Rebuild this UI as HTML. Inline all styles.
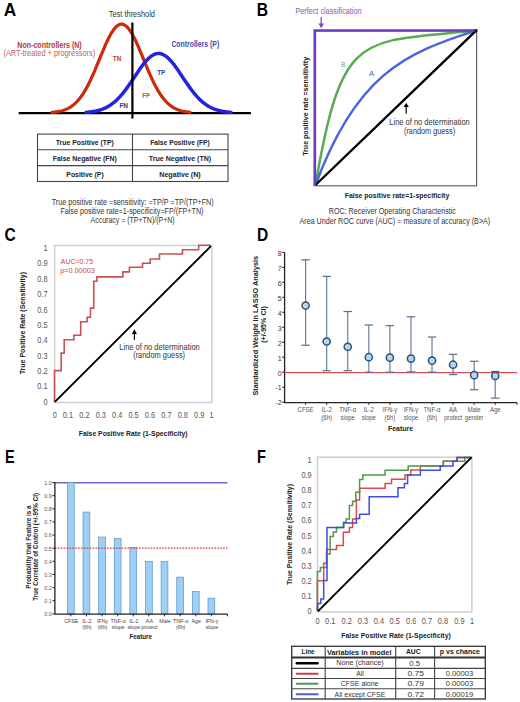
<!DOCTYPE html>
<html><head><meta charset="utf-8"><style>
html,body{margin:0;padding:0;background:#fff;width:520px;height:702px;overflow:hidden;}
svg{display:block;font-family:"Liberation Sans", sans-serif;}
</style></head><body>
<svg width="520" height="702" viewBox="0 0 520 702">
<rect x="0" y="0" width="520" height="702" fill="#fff"/>
<text x="3.85" y="15.80" font-size="17.7" fill="#000" font-weight="bold" textLength="12.49" lengthAdjust="spacingAndGlyphs" >A</text>
<text x="256.80" y="15.80" font-size="17.7" fill="#000" font-weight="bold" textLength="11.33" lengthAdjust="spacingAndGlyphs" >B</text>
<text x="4.60" y="240.80" font-size="17.7" fill="#000" font-weight="bold" textLength="11.23" lengthAdjust="spacingAndGlyphs" >C</text>
<text x="256.90" y="240.80" font-size="17.7" fill="#000" font-weight="bold" textLength="11.23" lengthAdjust="spacingAndGlyphs" >D</text>
<text x="5.00" y="462.50" font-size="17.7" fill="#000" font-weight="bold" textLength="9.63" lengthAdjust="spacingAndGlyphs" >E</text>
<text x="256.90" y="462.50" font-size="17.7" fill="#000" font-weight="bold" textLength="8.91" lengthAdjust="spacingAndGlyphs" >F</text>
<text x="108.75" y="16.50" font-size="8.2" fill="#333" textLength="46.26" lengthAdjust="spacingAndGlyphs" >Test threshold</text>
<line x1="18.70" y1="113.20" x2="250.90" y2="113.20" stroke="#000" stroke-width="2.3" />
<polyline points="52.00,112.40 53.00,112.30 54.00,112.20 55.00,112.08 56.00,111.94 57.00,111.79 58.00,111.62 59.00,111.43 60.00,111.22 61.00,110.98 62.00,110.71 63.00,110.41 64.00,110.08 65.00,109.72 66.00,109.31 67.00,108.87 68.00,108.38 69.00,107.85 70.00,107.27 71.00,106.63 72.00,105.94 73.00,105.18 74.00,104.37 75.00,103.49 76.00,102.54 77.00,101.52 78.00,100.43 79.00,99.26 80.00,98.01 81.00,96.69 82.00,95.28 83.00,93.80 84.00,92.23 85.00,90.58 86.00,88.85 87.00,87.03 88.00,85.14 89.00,83.18 90.00,81.14 91.00,79.03 92.00,76.86 93.00,74.63 94.00,72.34 95.00,70.01 96.00,67.64 97.00,65.23 98.00,62.81 99.00,60.36 100.00,57.92 101.00,55.47 102.00,53.05 103.00,50.65 104.00,48.28 105.00,45.97 106.00,43.72 107.00,41.54 108.00,39.44 109.00,37.44 110.00,35.54 111.00,33.76 112.00,32.10 113.00,30.59 114.00,29.21 115.00,27.99 116.00,26.93 117.00,26.04 118.00,25.32 119.00,24.77 120.00,24.41 121.00,24.22 122.00,24.22 123.00,24.41 124.00,24.77 125.00,25.32 126.00,26.04 127.00,26.93 128.00,27.99 129.00,29.21 130.00,30.59 131.00,32.10 132.00,33.76 133.00,35.54 134.00,37.44 135.00,39.44 136.00,41.54 137.00,43.72 138.00,45.97 139.00,48.28 140.00,50.65 141.00,53.05 142.00,55.47 143.00,57.92 144.00,60.36 145.00,62.81 146.00,65.23 147.00,67.64 148.00,70.01 149.00,72.34 150.00,74.63 151.00,76.86 152.00,79.03 153.00,81.14 154.00,83.18 155.00,85.14 156.00,87.03 157.00,88.85 158.00,90.58 159.00,92.23 160.00,93.80 161.00,95.28 162.00,96.69 163.00,98.01 164.00,99.26 165.00,100.43 166.00,101.52 167.00,102.54 168.00,103.49 169.00,104.37 170.00,105.18 171.00,105.94 172.00,106.63 173.00,107.27 174.00,107.85 175.00,108.38 176.00,108.87 177.00,109.31 178.00,109.72 179.00,110.08 180.00,110.41 181.00,110.71 182.00,110.98 183.00,111.22 184.00,111.43 185.00,111.62 186.00,111.79 187.00,111.94 188.00,112.08 189.00,112.20 190.00,112.30" fill="none" stroke="#cc2a0c" stroke-width="3.2" stroke-linecap="round"/>
<polyline points="86.00,112.38 87.00,112.30 88.00,112.20 89.00,112.10 90.00,111.99 91.00,111.86 92.00,111.72 93.00,111.56 94.00,111.39 95.00,111.20 96.00,111.00 97.00,110.77 98.00,110.52 99.00,110.25 100.00,109.95 101.00,109.63 102.00,109.28 103.00,108.90 104.00,108.48 105.00,108.04 106.00,107.56 107.00,107.05 108.00,106.50 109.00,105.91 110.00,105.28 111.00,104.61 112.00,103.89 113.00,103.14 114.00,102.33 115.00,101.49 116.00,100.60 117.00,99.66 118.00,98.67 119.00,97.64 120.00,96.57 121.00,95.45 122.00,94.28 123.00,93.07 124.00,91.83 125.00,90.54 126.00,89.21 127.00,87.86 128.00,86.46 129.00,85.05 130.00,83.60 131.00,82.14 132.00,80.66 133.00,79.16 134.00,77.66 135.00,76.16 136.00,74.66 137.00,73.17 138.00,71.69 139.00,70.23 140.00,68.79 141.00,67.39 142.00,66.02 143.00,64.70 144.00,63.43 145.00,62.21 146.00,61.05 147.00,59.95 148.00,58.93 149.00,57.98 150.00,57.12 151.00,56.34 152.00,55.64 153.00,55.04 154.00,54.54 155.00,54.13 156.00,53.82 157.00,53.62 158.00,53.51 159.00,53.51 160.00,53.62 161.00,53.82 162.00,54.13 163.00,54.54 164.00,55.04 165.00,55.64 166.00,56.34 167.00,57.12 168.00,57.98 169.00,58.93 170.00,59.95 171.00,61.05 172.00,62.21 173.00,63.43 174.00,64.70 175.00,66.02 176.00,67.39 177.00,68.79 178.00,70.23 179.00,71.69 180.00,73.17 181.00,74.66 182.00,76.16 183.00,77.66 184.00,79.16 185.00,80.66 186.00,82.14 187.00,83.60 188.00,85.05 189.00,86.46 190.00,87.86 191.00,89.21 192.00,90.54 193.00,91.83 194.00,93.07 195.00,94.28 196.00,95.45 197.00,96.57 198.00,97.64 199.00,98.67 200.00,99.66 201.00,100.60 202.00,101.49 203.00,102.33 204.00,103.14 205.00,103.89 206.00,104.61 207.00,105.28 208.00,105.91 209.00,106.50 210.00,107.05 211.00,107.56 212.00,108.04 213.00,108.48 214.00,108.90 215.00,109.28 216.00,109.63 217.00,109.95 218.00,110.25 219.00,110.52 220.00,110.77 221.00,111.00 222.00,111.20 223.00,111.39 224.00,111.56 225.00,111.72 226.00,111.86 227.00,111.99 228.00,112.10 229.00,112.20 230.00,112.30 231.00,112.38" fill="none" stroke="#2424e0" stroke-width="3.5" stroke-linecap="round"/>
<line x1="132.40" y1="22.50" x2="132.40" y2="118.60" stroke="#000" stroke-width="2.2" />
<text x="17.30" y="47.50" font-size="8.2" fill="#b23838" font-weight="bold" textLength="64.41" lengthAdjust="spacingAndGlyphs" >Non-controllers (N)</text>
<text x="3.50" y="56.20" font-size="8.2" fill="#c25c5c" textLength="91.69" lengthAdjust="spacingAndGlyphs" >(ART-treated + progressors)</text>
<text x="112.75" y="61.00" font-size="8.0" fill="#b24040" font-weight="bold" textLength="8.49" lengthAdjust="spacingAndGlyphs" >TN</text>
<text x="119.40" y="108.10" font-size="8.0" fill="#45306a" font-weight="bold" textLength="8.69" lengthAdjust="spacingAndGlyphs" >FN</text>
<text x="157.25" y="75.40" font-size="8.0" fill="#3838b8" font-weight="bold" textLength="7.99" lengthAdjust="spacingAndGlyphs" >TP</text>
<text x="142.25" y="97.50" font-size="8.0" fill="#8a6666" font-weight="bold" textLength="7.74" lengthAdjust="spacingAndGlyphs" >FP</text>
<text x="171.40" y="47.10" font-size="8.2" fill="#4646b0" font-weight="bold" textLength="47.80" lengthAdjust="spacingAndGlyphs" >Controllers (P)</text>
<rect x="37.5" y="134.1" width="190.5" height="47.4" fill="none" stroke="#444" stroke-width="1.1"/>
<line x1="37.50" y1="149.80" x2="228.00" y2="149.80" stroke="#444" stroke-width="1.1" />
<line x1="37.50" y1="165.60" x2="228.00" y2="165.60" stroke="#444" stroke-width="1.1" />
<line x1="132.50" y1="134.10" x2="132.50" y2="181.50" stroke="#444" stroke-width="1.1" />
<text x="55.80" y="145.20" font-size="8.0" fill="#222" font-weight="bold" textLength="58.01" lengthAdjust="spacingAndGlyphs" >True Positive (TP)</text>
<text x="52.80" y="160.90" font-size="8.0" fill="#222" font-weight="bold" textLength="64.00" lengthAdjust="spacingAndGlyphs" >False Negative (FN)</text>
<text x="66.30" y="176.90" font-size="8.0" fill="#222" font-weight="bold" textLength="37.41" lengthAdjust="spacingAndGlyphs" >Positive (P)</text>
<text x="150.20" y="145.20" font-size="8.0" fill="#222" font-weight="bold" textLength="59.61" lengthAdjust="spacingAndGlyphs" >False Positive (FP)</text>
<text x="148.80" y="160.90" font-size="8.0" fill="#222" font-weight="bold" textLength="62.40" lengthAdjust="spacingAndGlyphs" >True Negative (TN)</text>
<text x="159.30" y="176.90" font-size="8.0" fill="#222" font-weight="bold" textLength="41.40" lengthAdjust="spacingAndGlyphs" >Negative (N)</text>
<text x="51.70" y="204.50" font-size="8.4" fill="#333" textLength="161.98" lengthAdjust="spacingAndGlyphs" >True positive rate =sensitivity: =TP/P =TP/(TP+FN)</text>
<text x="60.40" y="213.50" font-size="8.4" fill="#333" textLength="143.09" lengthAdjust="spacingAndGlyphs" >False positive rate=1-specificity=FP/(FP+TN)</text>
<text x="90.60" y="223.30" font-size="8.4" fill="#333" textLength="84.00" lengthAdjust="spacingAndGlyphs" >Accuracy = (TP+TN)/(P+N)</text>
<text x="295.40" y="14.30" font-size="8.4" fill="#7c5cc4" textLength="66.10" lengthAdjust="spacingAndGlyphs" >Perfect classification</text>
<line x1="321.20" y1="17.20" x2="321.20" y2="25.00" stroke="#7b45d0" stroke-width="1.3" />
<polygon points="318.4,23.5 324.0,23.5 321.2,28.3" fill="#7b45d0"/>
<rect x="314.8" y="30.8" width="161.8" height="155.0" fill="none" stroke="#666" stroke-width="1.2"/>
<path d="M315.5,185 C342.31,29.69 358.5,42.38 476.1,30.6" fill="none" stroke="#5aaa50" stroke-width="2.5"/>
<path d="M315.5,185 C355.63,76 403.69,53.13 476.1,30.6" fill="none" stroke="#4a64e0" stroke-width="2.5"/>
<line x1="315.50" y1="185.00" x2="476.10" y2="30.60" stroke="#000" stroke-width="2.4" />
<polyline points="314.80,186.00 314.80,30.50 476.20,30.50" fill="none" stroke="#6c3cc0" stroke-width="2.7" />
<circle cx="476.1" cy="30.6" r="1.5" fill="#111"/>
<text x="341.00" y="66.60" font-size="8.0" fill="#6aaa5a" textLength="4.21" lengthAdjust="spacingAndGlyphs" >B</text>
<text x="369.00" y="76.40" font-size="8.0" fill="#4a5ac8" textLength="5.18" lengthAdjust="spacingAndGlyphs" >A</text>
<line x1="406.20" y1="106.00" x2="406.20" y2="113.80" stroke="#000" stroke-width="1.2" />
<polygon points="403.6,107 408.8,107 406.2,102.8" fill="#000"/>
<text x="389.30" y="125.40" font-size="8.4" fill="#333" textLength="80.50" lengthAdjust="spacingAndGlyphs" >Line of no determination</text>
<text x="404.00" y="133.70" font-size="8.4" fill="#333" textLength="51.09" lengthAdjust="spacingAndGlyphs" >(random guess)</text>
<text x="0" y="0" transform="translate(308.40 155.80) rotate(-90)" font-size="8.0" fill="#222" font-weight="bold" textLength="98.89" lengthAdjust="spacingAndGlyphs">True positive rate =sensitivity</text>
<text x="344.70" y="198.10" font-size="8.0" fill="#222" font-weight="bold" textLength="104.60" lengthAdjust="spacingAndGlyphs" >False positive rate=1-specificity</text>
<text x="328.75" y="213.75" font-size="8.4" fill="#333" textLength="127.14" lengthAdjust="spacingAndGlyphs" >ROC: Receiver Operating Characteristic</text>
<text x="299.50" y="224.25" font-size="8.4" fill="#333" textLength="190.71" lengthAdjust="spacingAndGlyphs" >Area Under ROC curve (AUC) = measure of accuracy (B&gt;A)</text>
<rect x="54.6" y="245.5" width="157.20" height="157.00" fill="none" stroke="#cfcfcf" stroke-width="1.5"/>
<text x="47.60" y="404.70" font-size="8.2" fill="#555" text-anchor="end" textLength="4.10" lengthAdjust="spacingAndGlyphs">0</text>
<text x="47.60" y="389.34" font-size="8.2" fill="#555" text-anchor="end" textLength="10.26" lengthAdjust="spacingAndGlyphs">0.1</text>
<text x="47.60" y="373.98" font-size="8.2" fill="#555" text-anchor="end" textLength="10.26" lengthAdjust="spacingAndGlyphs">0.2</text>
<text x="47.60" y="358.62" font-size="8.2" fill="#555" text-anchor="end" textLength="10.26" lengthAdjust="spacingAndGlyphs">0.3</text>
<text x="47.60" y="343.26" font-size="8.2" fill="#555" text-anchor="end" textLength="10.26" lengthAdjust="spacingAndGlyphs">0.4</text>
<text x="47.60" y="327.90" font-size="8.2" fill="#555" text-anchor="end" textLength="10.26" lengthAdjust="spacingAndGlyphs">0.5</text>
<text x="47.60" y="312.54" font-size="8.2" fill="#555" text-anchor="end" textLength="10.26" lengthAdjust="spacingAndGlyphs">0.6</text>
<text x="47.60" y="297.18" font-size="8.2" fill="#555" text-anchor="end" textLength="10.26" lengthAdjust="spacingAndGlyphs">0.7</text>
<text x="47.60" y="281.82" font-size="8.2" fill="#555" text-anchor="end" textLength="10.26" lengthAdjust="spacingAndGlyphs">0.8</text>
<text x="47.60" y="266.46" font-size="8.2" fill="#555" text-anchor="end" textLength="10.26" lengthAdjust="spacingAndGlyphs">0.9</text>
<text x="47.60" y="251.10" font-size="8.2" fill="#555" text-anchor="end" textLength="4.10" lengthAdjust="spacingAndGlyphs">1</text>
<text x="54.90" y="417.90" font-size="8.2" fill="#555" text-anchor="middle" textLength="4.10" lengthAdjust="spacingAndGlyphs">0</text>
<text x="67.90" y="417.90" font-size="8.2" fill="#555" text-anchor="middle" textLength="10.26" lengthAdjust="spacingAndGlyphs">0.1</text>
<text x="84.40" y="417.90" font-size="8.2" fill="#555" text-anchor="middle" textLength="10.26" lengthAdjust="spacingAndGlyphs">0.2</text>
<text x="100.80" y="417.90" font-size="8.2" fill="#555" text-anchor="middle" textLength="10.26" lengthAdjust="spacingAndGlyphs">0.3</text>
<text x="117.20" y="417.90" font-size="8.2" fill="#555" text-anchor="middle" textLength="10.26" lengthAdjust="spacingAndGlyphs">0.4</text>
<text x="133.60" y="417.90" font-size="8.2" fill="#555" text-anchor="middle" textLength="10.26" lengthAdjust="spacingAndGlyphs">0.5</text>
<text x="150.00" y="417.90" font-size="8.2" fill="#555" text-anchor="middle" textLength="10.26" lengthAdjust="spacingAndGlyphs">0.6</text>
<text x="166.40" y="417.90" font-size="8.2" fill="#555" text-anchor="middle" textLength="10.26" lengthAdjust="spacingAndGlyphs">0.7</text>
<text x="182.80" y="417.90" font-size="8.2" fill="#555" text-anchor="middle" textLength="10.26" lengthAdjust="spacingAndGlyphs">0.8</text>
<text x="199.20" y="417.90" font-size="8.2" fill="#555" text-anchor="middle" textLength="10.26" lengthAdjust="spacingAndGlyphs">0.9</text>
<text x="211.60" y="417.90" font-size="8.2" fill="#555" text-anchor="middle" textLength="4.10" lengthAdjust="spacingAndGlyphs">1</text>
<polyline points="54.50,402.30 54.50,370.60 61.20,370.60 61.20,353.10 64.20,353.10 64.20,339.70 73.90,339.70 73.90,335.20 80.70,335.20 80.70,321.70 87.10,321.70 87.10,317.20 90.50,317.20 90.50,308.10 93.75,308.10 93.75,281.25 96.90,281.25 96.90,276.90 122.90,276.90 122.90,271.90 129.40,271.90 129.40,267.25 142.50,267.25 142.50,263.20 150.20,263.20 150.20,259.00 159.50,259.00 159.50,254.00 182.45,254.00 182.45,249.70 198.50,249.70 198.80,245.20 210.90,245.20" fill="none" stroke="#cc5050" stroke-width="1.6" />
<line x1="54.85" y1="401.80" x2="210.90" y2="246.20" stroke="#000" stroke-width="1.9" />
<text x="60.80" y="263.80" font-size="8.0" fill="#c84848" textLength="32.31" lengthAdjust="spacingAndGlyphs" >AUC=0.75</text>
<text x="60.20" y="272.50" font-size="8.0" fill="#c84848" textLength="34.60" lengthAdjust="spacingAndGlyphs" >p=0.00003</text>
<line x1="134.40" y1="333.00" x2="134.40" y2="339.70" stroke="#000" stroke-width="1.2" />
<polygon points="131.9,334 136.9,334 134.4,329.3" fill="#000"/>
<text x="119.30" y="349.60" font-size="8.4" fill="#333" textLength="80.50" lengthAdjust="spacingAndGlyphs" >Line of no determination</text>
<text x="133.20" y="357.90" font-size="8.4" fill="#333" textLength="51.89" lengthAdjust="spacingAndGlyphs" >(random guess)</text>
<text x="0" y="0" transform="translate(25.00 374.30) rotate(-90)" font-size="8.0" fill="#222" font-weight="bold" textLength="102.31" lengthAdjust="spacingAndGlyphs">True Positive Rate (Sensitivity)</text>
<text x="78.75" y="436.25" font-size="8.0" fill="#222" font-weight="bold" textLength="108.75" lengthAdjust="spacingAndGlyphs" >False Positive Rate (1-Specificity)</text>
<line x1="284.60" y1="252.30" x2="284.60" y2="403.00" stroke="#222" stroke-width="1.3" />
<line x1="284.60" y1="402.60" x2="517.00" y2="402.60" stroke="#222" stroke-width="1.3" />
<line x1="282.20" y1="402.16" x2="284.60" y2="402.16" stroke="#222" stroke-width="1.1" />
<text x="281.60" y="405.46" font-size="7.0" fill="#333" text-anchor="end">-2</text>
<line x1="282.20" y1="387.18" x2="284.60" y2="387.18" stroke="#222" stroke-width="1.1" />
<text x="281.60" y="390.48" font-size="7.0" fill="#333" text-anchor="end">-1</text>
<line x1="282.20" y1="372.20" x2="284.60" y2="372.20" stroke="#222" stroke-width="1.1" />
<text x="281.60" y="375.50" font-size="7.0" fill="#333" text-anchor="end">0</text>
<line x1="282.20" y1="357.22" x2="284.60" y2="357.22" stroke="#222" stroke-width="1.1" />
<text x="281.60" y="360.52" font-size="7.0" fill="#333" text-anchor="end">1</text>
<line x1="282.20" y1="342.24" x2="284.60" y2="342.24" stroke="#222" stroke-width="1.1" />
<text x="281.60" y="345.54" font-size="7.0" fill="#333" text-anchor="end">2</text>
<line x1="282.20" y1="327.26" x2="284.60" y2="327.26" stroke="#222" stroke-width="1.1" />
<text x="281.60" y="330.56" font-size="7.0" fill="#333" text-anchor="end">3</text>
<line x1="282.20" y1="312.28" x2="284.60" y2="312.28" stroke="#222" stroke-width="1.1" />
<text x="281.60" y="315.58" font-size="7.0" fill="#333" text-anchor="end">4</text>
<line x1="282.20" y1="297.30" x2="284.60" y2="297.30" stroke="#222" stroke-width="1.1" />
<text x="281.60" y="300.60" font-size="7.0" fill="#333" text-anchor="end">5</text>
<line x1="282.20" y1="282.32" x2="284.60" y2="282.32" stroke="#222" stroke-width="1.1" />
<text x="281.60" y="285.62" font-size="7.0" fill="#333" text-anchor="end">6</text>
<line x1="282.20" y1="267.34" x2="284.60" y2="267.34" stroke="#222" stroke-width="1.1" />
<text x="281.60" y="270.64" font-size="7.0" fill="#333" text-anchor="end">7</text>
<line x1="282.20" y1="252.36" x2="284.60" y2="252.36" stroke="#222" stroke-width="1.1" />
<text x="281.60" y="255.66" font-size="7.0" fill="#333" text-anchor="end">8</text>
<line x1="284.60" y1="372.60" x2="517.30" y2="372.60" stroke="#d65252" stroke-width="1.3" />
<line x1="305.60" y1="259.85" x2="305.60" y2="345.24" stroke="#6a7e98" stroke-width="1.2" />
<line x1="301.40" y1="259.85" x2="309.80" y2="259.85" stroke="#5a6e88" stroke-width="1.2" />
<line x1="301.40" y1="345.24" x2="309.80" y2="345.24" stroke="#5a6e88" stroke-width="1.2" />
<line x1="326.67" y1="276.33" x2="326.67" y2="370.70" stroke="#6a7e98" stroke-width="1.2" />
<line x1="322.47" y1="276.33" x2="330.87" y2="276.33" stroke="#5a6e88" stroke-width="1.2" />
<line x1="322.47" y1="370.70" x2="330.87" y2="370.70" stroke="#5a6e88" stroke-width="1.2" />
<line x1="347.74" y1="311.53" x2="347.74" y2="370.70" stroke="#6a7e98" stroke-width="1.2" />
<line x1="343.54" y1="311.53" x2="351.94" y2="311.53" stroke="#5a6e88" stroke-width="1.2" />
<line x1="343.54" y1="370.70" x2="351.94" y2="370.70" stroke="#5a6e88" stroke-width="1.2" />
<line x1="368.81" y1="325.01" x2="368.81" y2="372.20" stroke="#6a7e98" stroke-width="1.2" />
<line x1="364.61" y1="325.01" x2="373.01" y2="325.01" stroke="#5a6e88" stroke-width="1.2" />
<line x1="364.61" y1="372.20" x2="373.01" y2="372.20" stroke="#5a6e88" stroke-width="1.2" />
<line x1="389.88" y1="325.61" x2="389.88" y2="372.20" stroke="#6a7e98" stroke-width="1.2" />
<line x1="385.68" y1="325.61" x2="394.08" y2="325.61" stroke="#5a6e88" stroke-width="1.2" />
<line x1="385.68" y1="372.20" x2="394.08" y2="372.20" stroke="#5a6e88" stroke-width="1.2" />
<line x1="410.95" y1="316.77" x2="410.95" y2="371.90" stroke="#6a7e98" stroke-width="1.2" />
<line x1="406.75" y1="316.77" x2="415.15" y2="316.77" stroke="#5a6e88" stroke-width="1.2" />
<line x1="406.75" y1="371.90" x2="415.15" y2="371.90" stroke="#5a6e88" stroke-width="1.2" />
<line x1="432.02" y1="337.00" x2="432.02" y2="372.20" stroke="#6a7e98" stroke-width="1.2" />
<line x1="427.82" y1="337.00" x2="436.22" y2="337.00" stroke="#5a6e88" stroke-width="1.2" />
<line x1="427.82" y1="372.20" x2="436.22" y2="372.20" stroke="#5a6e88" stroke-width="1.2" />
<line x1="453.09" y1="354.37" x2="453.09" y2="374.60" stroke="#6a7e98" stroke-width="1.2" />
<line x1="448.89" y1="354.37" x2="457.29" y2="354.37" stroke="#5a6e88" stroke-width="1.2" />
<line x1="448.89" y1="374.60" x2="457.29" y2="374.60" stroke="#5a6e88" stroke-width="1.2" />
<line x1="474.16" y1="361.26" x2="474.16" y2="389.73" stroke="#6a7e98" stroke-width="1.2" />
<line x1="469.96" y1="361.26" x2="478.36" y2="361.26" stroke="#5a6e88" stroke-width="1.2" />
<line x1="469.96" y1="389.73" x2="478.36" y2="389.73" stroke="#5a6e88" stroke-width="1.2" />
<line x1="495.23" y1="371.45" x2="495.23" y2="398.12" stroke="#6a7e98" stroke-width="1.2" />
<line x1="491.03" y1="371.45" x2="499.43" y2="371.45" stroke="#5a6e88" stroke-width="1.2" />
<line x1="491.03" y1="398.12" x2="499.43" y2="398.12" stroke="#5a6e88" stroke-width="1.2" />
<circle cx="305.60" cy="305.54" r="3.6" fill="#acd8fa" stroke="#34506e" stroke-width="1.5"/>
<circle cx="326.67" cy="341.49" r="3.6" fill="#acd8fa" stroke="#34506e" stroke-width="1.5"/>
<circle cx="347.74" cy="346.73" r="3.6" fill="#acd8fa" stroke="#34506e" stroke-width="1.5"/>
<circle cx="368.81" cy="357.22" r="3.6" fill="#acd8fa" stroke="#34506e" stroke-width="1.5"/>
<circle cx="389.88" cy="357.67" r="3.6" fill="#acd8fa" stroke="#34506e" stroke-width="1.5"/>
<circle cx="410.95" cy="358.57" r="3.6" fill="#acd8fa" stroke="#34506e" stroke-width="1.5"/>
<circle cx="432.02" cy="360.67" r="3.6" fill="#acd8fa" stroke="#34506e" stroke-width="1.5"/>
<circle cx="453.09" cy="364.71" r="3.6" fill="#acd8fa" stroke="#34506e" stroke-width="1.5"/>
<circle cx="474.16" cy="375.20" r="3.6" fill="#acd8fa" stroke="#34506e" stroke-width="1.5"/>
<circle cx="495.23" cy="375.94" r="3.6" fill="#acd8fa" stroke="#34506e" stroke-width="1.5"/>
<line x1="305.60" y1="402.60" x2="305.60" y2="404.80" stroke="#222" stroke-width="1.0" />
<line x1="326.67" y1="402.60" x2="326.67" y2="404.80" stroke="#222" stroke-width="1.0" />
<line x1="347.74" y1="402.60" x2="347.74" y2="404.80" stroke="#222" stroke-width="1.0" />
<line x1="368.81" y1="402.60" x2="368.81" y2="404.80" stroke="#222" stroke-width="1.0" />
<line x1="389.88" y1="402.60" x2="389.88" y2="404.80" stroke="#222" stroke-width="1.0" />
<line x1="410.95" y1="402.60" x2="410.95" y2="404.80" stroke="#222" stroke-width="1.0" />
<line x1="432.02" y1="402.60" x2="432.02" y2="404.80" stroke="#222" stroke-width="1.0" />
<line x1="453.09" y1="402.60" x2="453.09" y2="404.80" stroke="#222" stroke-width="1.0" />
<line x1="474.16" y1="402.60" x2="474.16" y2="404.80" stroke="#222" stroke-width="1.0" />
<line x1="495.23" y1="402.60" x2="495.23" y2="404.80" stroke="#222" stroke-width="1.0" />
<line x1="517.00" y1="402.60" x2="517.00" y2="404.80" stroke="#222" stroke-width="1.0" />
<text x="305.60" y="412.30" font-size="6.3" fill="#555" text-anchor="middle" textLength="15.96" lengthAdjust="spacingAndGlyphs">CFSE</text>
<text x="326.67" y="412.30" font-size="6.3" fill="#555" text-anchor="middle" textLength="10.31" lengthAdjust="spacingAndGlyphs">IL-2</text>
<text x="326.67" y="419.50" font-size="6.3" fill="#555" text-anchor="middle" textLength="10.64" lengthAdjust="spacingAndGlyphs">(6h)</text>
<text x="347.74" y="412.30" font-size="6.3" fill="#555" text-anchor="middle" textLength="17.09" lengthAdjust="spacingAndGlyphs">TNF-α</text>
<text x="347.74" y="419.50" font-size="6.3" fill="#555" text-anchor="middle" textLength="14.31" lengthAdjust="spacingAndGlyphs">slope</text>
<text x="368.81" y="412.30" font-size="6.3" fill="#555" text-anchor="middle" textLength="10.31" lengthAdjust="spacingAndGlyphs">IL-2</text>
<text x="368.81" y="419.50" font-size="6.3" fill="#555" text-anchor="middle" textLength="14.31" lengthAdjust="spacingAndGlyphs">slope</text>
<text x="389.88" y="412.30" font-size="6.3" fill="#555" text-anchor="middle" textLength="14.63" lengthAdjust="spacingAndGlyphs">IFN-γ</text>
<text x="389.88" y="419.50" font-size="6.3" fill="#555" text-anchor="middle" textLength="10.64" lengthAdjust="spacingAndGlyphs">(6h)</text>
<text x="410.95" y="412.30" font-size="6.3" fill="#555" text-anchor="middle" textLength="14.63" lengthAdjust="spacingAndGlyphs">IFN-γ</text>
<text x="410.95" y="419.50" font-size="6.3" fill="#555" text-anchor="middle" textLength="14.31" lengthAdjust="spacingAndGlyphs">slope</text>
<text x="432.02" y="412.30" font-size="6.3" fill="#555" text-anchor="middle" textLength="17.09" lengthAdjust="spacingAndGlyphs">TNF-α</text>
<text x="432.02" y="419.50" font-size="6.3" fill="#555" text-anchor="middle" textLength="10.64" lengthAdjust="spacingAndGlyphs">(6h)</text>
<text x="453.09" y="412.30" font-size="6.3" fill="#555" text-anchor="middle" textLength="7.98" lengthAdjust="spacingAndGlyphs">AA</text>
<text x="453.09" y="419.50" font-size="6.3" fill="#555" text-anchor="middle" textLength="18.30" lengthAdjust="spacingAndGlyphs">protect</text>
<text x="474.16" y="412.30" font-size="6.3" fill="#555" text-anchor="middle" textLength="12.97" lengthAdjust="spacingAndGlyphs">Male</text>
<text x="474.16" y="419.50" font-size="6.3" fill="#555" text-anchor="middle" textLength="18.64" lengthAdjust="spacingAndGlyphs">gender</text>
<text x="495.23" y="412.30" font-size="6.3" fill="#555" text-anchor="middle" textLength="10.65" lengthAdjust="spacingAndGlyphs">Age</text>
<text x="388.00" y="431.00" font-size="6.8" fill="#222" font-weight="bold" textLength="25.02" lengthAdjust="spacingAndGlyphs" >Feature</text>
<text x="0" y="0" transform="translate(257.50 395.60) rotate(-90)" font-size="7.2" fill="#222" font-weight="bold" textLength="139.72" lengthAdjust="spacingAndGlyphs">Standardized Weight  in LASSO Analysis</text>
<text x="0" y="0" transform="translate(265.50 342.80) rotate(-90)" font-size="7.2" fill="#222" font-weight="bold" textLength="36.80" lengthAdjust="spacingAndGlyphs">(+/-95% CI)</text>
<line x1="54.90" y1="482.70" x2="227.40" y2="482.70" stroke="#7e5ecc" stroke-width="1.6" />
<rect x="67.40" y="482.50" width="6.8" height="131.40" fill="#9ed0f6" stroke="#5b93c8" stroke-width="0.7"/>
<rect x="83.02" y="512.06" width="6.8" height="101.84" fill="#9ed0f6" stroke="#5b93c8" stroke-width="0.7"/>
<rect x="98.64" y="537.03" width="6.8" height="76.87" fill="#9ed0f6" stroke="#5b93c8" stroke-width="0.7"/>
<rect x="114.26" y="538.35" width="6.8" height="75.55" fill="#9ed0f6" stroke="#5b93c8" stroke-width="0.7"/>
<rect x="129.88" y="547.54" width="6.8" height="66.36" fill="#9ed0f6" stroke="#5b93c8" stroke-width="0.7"/>
<rect x="145.50" y="561.34" width="6.8" height="52.56" fill="#9ed0f6" stroke="#5b93c8" stroke-width="0.7"/>
<rect x="161.12" y="561.34" width="6.8" height="52.56" fill="#9ed0f6" stroke="#5b93c8" stroke-width="0.7"/>
<rect x="176.74" y="577.11" width="6.8" height="36.79" fill="#9ed0f6" stroke="#5b93c8" stroke-width="0.7"/>
<rect x="192.36" y="591.56" width="6.8" height="22.34" fill="#9ed0f6" stroke="#5b93c8" stroke-width="0.7"/>
<rect x="207.98" y="598.13" width="6.8" height="15.77" fill="#9ed0f6" stroke="#5b93c8" stroke-width="0.7"/>
<line x1="54.90" y1="548.10" x2="227.40" y2="548.10" stroke="#d43a3a" stroke-width="1.2" stroke-dasharray="1.6 1.3"/>
<line x1="54.90" y1="482.00" x2="54.90" y2="614.60" stroke="#222" stroke-width="1.3" />
<line x1="54.90" y1="614.10" x2="227.60" y2="614.10" stroke="#222" stroke-width="1.3" />
<line x1="52.40" y1="613.90" x2="54.90" y2="613.90" stroke="#222" stroke-width="1.0" />
<text x="51.80" y="616.20" font-size="5.8" fill="#555" text-anchor="end" textLength="7.50" lengthAdjust="spacingAndGlyphs">0.0</text>
<line x1="52.40" y1="600.76" x2="54.90" y2="600.76" stroke="#222" stroke-width="1.0" />
<text x="51.80" y="603.06" font-size="5.8" fill="#555" text-anchor="end" textLength="7.50" lengthAdjust="spacingAndGlyphs">0.1</text>
<line x1="52.40" y1="587.62" x2="54.90" y2="587.62" stroke="#222" stroke-width="1.0" />
<text x="51.80" y="589.92" font-size="5.8" fill="#555" text-anchor="end" textLength="7.50" lengthAdjust="spacingAndGlyphs">0.2</text>
<line x1="52.40" y1="574.48" x2="54.90" y2="574.48" stroke="#222" stroke-width="1.0" />
<text x="51.80" y="576.78" font-size="5.8" fill="#555" text-anchor="end" textLength="7.50" lengthAdjust="spacingAndGlyphs">0.3</text>
<line x1="52.40" y1="561.34" x2="54.90" y2="561.34" stroke="#222" stroke-width="1.0" />
<text x="51.80" y="563.64" font-size="5.8" fill="#555" text-anchor="end" textLength="7.50" lengthAdjust="spacingAndGlyphs">0.4</text>
<line x1="52.40" y1="548.20" x2="54.90" y2="548.20" stroke="#222" stroke-width="1.0" />
<text x="51.80" y="550.50" font-size="5.8" fill="#555" text-anchor="end" textLength="7.50" lengthAdjust="spacingAndGlyphs">0.5</text>
<line x1="52.40" y1="535.06" x2="54.90" y2="535.06" stroke="#222" stroke-width="1.0" />
<text x="51.80" y="537.36" font-size="5.8" fill="#555" text-anchor="end" textLength="7.50" lengthAdjust="spacingAndGlyphs">0.6</text>
<line x1="52.40" y1="521.92" x2="54.90" y2="521.92" stroke="#222" stroke-width="1.0" />
<text x="51.80" y="524.22" font-size="5.8" fill="#555" text-anchor="end" textLength="7.50" lengthAdjust="spacingAndGlyphs">0.7</text>
<line x1="52.40" y1="508.78" x2="54.90" y2="508.78" stroke="#222" stroke-width="1.0" />
<text x="51.80" y="511.08" font-size="5.8" fill="#555" text-anchor="end" textLength="7.50" lengthAdjust="spacingAndGlyphs">0.8</text>
<line x1="52.40" y1="495.64" x2="54.90" y2="495.64" stroke="#222" stroke-width="1.0" />
<text x="51.80" y="497.94" font-size="5.8" fill="#555" text-anchor="end" textLength="7.50" lengthAdjust="spacingAndGlyphs">0.9</text>
<line x1="52.40" y1="482.50" x2="54.90" y2="482.50" stroke="#222" stroke-width="1.0" />
<text x="51.80" y="484.80" font-size="5.8" fill="#555" text-anchor="end" textLength="7.50" lengthAdjust="spacingAndGlyphs">1.0</text>
<line x1="70.80" y1="614.10" x2="70.80" y2="616.30" stroke="#222" stroke-width="1.0" />
<line x1="86.42" y1="614.10" x2="86.42" y2="616.30" stroke="#222" stroke-width="1.0" />
<line x1="102.04" y1="614.10" x2="102.04" y2="616.30" stroke="#222" stroke-width="1.0" />
<line x1="117.66" y1="614.10" x2="117.66" y2="616.30" stroke="#222" stroke-width="1.0" />
<line x1="133.28" y1="614.10" x2="133.28" y2="616.30" stroke="#222" stroke-width="1.0" />
<line x1="148.90" y1="614.10" x2="148.90" y2="616.30" stroke="#222" stroke-width="1.0" />
<line x1="164.52" y1="614.10" x2="164.52" y2="616.30" stroke="#222" stroke-width="1.0" />
<line x1="180.14" y1="614.10" x2="180.14" y2="616.30" stroke="#222" stroke-width="1.0" />
<line x1="195.76" y1="614.10" x2="195.76" y2="616.30" stroke="#222" stroke-width="1.0" />
<line x1="211.38" y1="614.10" x2="211.38" y2="616.30" stroke="#222" stroke-width="1.0" />
<line x1="227.35" y1="614.10" x2="227.35" y2="616.30" stroke="#222" stroke-width="1.0" />
<text x="71.30" y="623.10" font-size="5.6" fill="#444" text-anchor="middle" textLength="14.19" lengthAdjust="spacingAndGlyphs">CFSE</text>
<text x="86.92" y="623.10" font-size="5.6" fill="#444" text-anchor="middle" textLength="9.17" lengthAdjust="spacingAndGlyphs">IL-2</text>
<text x="86.92" y="628.60" font-size="5.6" fill="#444" text-anchor="middle" textLength="9.46" lengthAdjust="spacingAndGlyphs">(6h)</text>
<text x="102.54" y="623.10" font-size="5.6" fill="#444" text-anchor="middle" textLength="11.23" lengthAdjust="spacingAndGlyphs">IFNy</text>
<text x="102.54" y="628.60" font-size="5.6" fill="#444" text-anchor="middle" textLength="9.46" lengthAdjust="spacingAndGlyphs">(6h)</text>
<text x="118.16" y="623.10" font-size="5.6" fill="#444" text-anchor="middle" textLength="15.19" lengthAdjust="spacingAndGlyphs">TNF-α</text>
<text x="118.16" y="628.60" font-size="5.6" fill="#444" text-anchor="middle" textLength="12.72" lengthAdjust="spacingAndGlyphs">slope</text>
<text x="133.78" y="623.10" font-size="5.6" fill="#444" text-anchor="middle" textLength="9.17" lengthAdjust="spacingAndGlyphs">IL-2</text>
<text x="133.78" y="628.60" font-size="5.6" fill="#444" text-anchor="middle" textLength="12.72" lengthAdjust="spacingAndGlyphs">slope</text>
<text x="149.40" y="623.10" font-size="5.6" fill="#444" text-anchor="middle" textLength="7.10" lengthAdjust="spacingAndGlyphs">AA</text>
<text x="149.40" y="628.60" font-size="5.6" fill="#444" text-anchor="middle" textLength="16.26" lengthAdjust="spacingAndGlyphs">protect</text>
<text x="165.02" y="623.10" font-size="5.6" fill="#444" text-anchor="middle" textLength="11.53" lengthAdjust="spacingAndGlyphs">Male</text>
<text x="180.64" y="623.10" font-size="5.6" fill="#444" text-anchor="middle" textLength="15.19" lengthAdjust="spacingAndGlyphs">TNF-α</text>
<text x="180.64" y="628.60" font-size="5.6" fill="#444" text-anchor="middle" textLength="9.46" lengthAdjust="spacingAndGlyphs">(6h)</text>
<text x="196.26" y="623.10" font-size="5.6" fill="#444" text-anchor="middle" textLength="9.47" lengthAdjust="spacingAndGlyphs">Age</text>
<text x="211.88" y="623.10" font-size="5.6" fill="#444" text-anchor="middle" textLength="13.00" lengthAdjust="spacingAndGlyphs">IFN-γ</text>
<text x="211.88" y="628.60" font-size="5.6" fill="#444" text-anchor="middle" textLength="12.72" lengthAdjust="spacingAndGlyphs">slope</text>
<text x="129.40" y="639.30" font-size="6.6" fill="#222" font-weight="bold" textLength="22.62" lengthAdjust="spacingAndGlyphs" >Feature</text>
<text x="0" y="0" transform="translate(30.50 588.80) rotate(-90)" font-size="6.4" fill="#222" font-weight="bold" textLength="83.33" lengthAdjust="spacingAndGlyphs">Probability that Feature is a</text>
<text x="0" y="0" transform="translate(38.00 600.80) rotate(-90)" font-size="6.3" fill="#222" font-weight="bold" textLength="107.79" lengthAdjust="spacingAndGlyphs">True Correlate of Control (+/-95% CI)</text>
<rect x="317.5" y="457.2" width="154.40" height="154.70" fill="none" stroke="#cfcfcf" stroke-width="1.5"/>
<text x="311.70" y="614.30" font-size="8.2" fill="#555" text-anchor="end" textLength="4.10" lengthAdjust="spacingAndGlyphs">0</text>
<text x="311.70" y="599.16" font-size="8.2" fill="#555" text-anchor="end" textLength="10.26" lengthAdjust="spacingAndGlyphs">0.1</text>
<text x="311.70" y="584.02" font-size="8.2" fill="#555" text-anchor="end" textLength="10.26" lengthAdjust="spacingAndGlyphs">0.2</text>
<text x="311.70" y="568.88" font-size="8.2" fill="#555" text-anchor="end" textLength="10.26" lengthAdjust="spacingAndGlyphs">0.3</text>
<text x="311.70" y="553.74" font-size="8.2" fill="#555" text-anchor="end" textLength="10.26" lengthAdjust="spacingAndGlyphs">0.4</text>
<text x="311.70" y="538.60" font-size="8.2" fill="#555" text-anchor="end" textLength="10.26" lengthAdjust="spacingAndGlyphs">0.5</text>
<text x="311.70" y="523.46" font-size="8.2" fill="#555" text-anchor="end" textLength="10.26" lengthAdjust="spacingAndGlyphs">0.6</text>
<text x="311.70" y="508.32" font-size="8.2" fill="#555" text-anchor="end" textLength="10.26" lengthAdjust="spacingAndGlyphs">0.7</text>
<text x="311.70" y="493.18" font-size="8.2" fill="#555" text-anchor="end" textLength="10.26" lengthAdjust="spacingAndGlyphs">0.8</text>
<text x="311.70" y="478.04" font-size="8.2" fill="#555" text-anchor="end" textLength="10.26" lengthAdjust="spacingAndGlyphs">0.9</text>
<text x="311.70" y="462.90" font-size="8.2" fill="#555" text-anchor="end" textLength="4.10" lengthAdjust="spacingAndGlyphs">1</text>
<text x="317.50" y="623.60" font-size="8.2" fill="#555" text-anchor="middle" textLength="4.10" lengthAdjust="spacingAndGlyphs">0</text>
<text x="330.20" y="623.60" font-size="8.2" fill="#555" text-anchor="middle" textLength="10.26" lengthAdjust="spacingAndGlyphs">0.1</text>
<text x="346.70" y="623.60" font-size="8.2" fill="#555" text-anchor="middle" textLength="10.26" lengthAdjust="spacingAndGlyphs">0.2</text>
<text x="363.00" y="623.60" font-size="8.2" fill="#555" text-anchor="middle" textLength="10.26" lengthAdjust="spacingAndGlyphs">0.3</text>
<text x="378.90" y="623.60" font-size="8.2" fill="#555" text-anchor="middle" textLength="10.26" lengthAdjust="spacingAndGlyphs">0.4</text>
<text x="394.70" y="623.60" font-size="8.2" fill="#555" text-anchor="middle" textLength="10.26" lengthAdjust="spacingAndGlyphs">0.5</text>
<text x="411.20" y="623.60" font-size="8.2" fill="#555" text-anchor="middle" textLength="10.26" lengthAdjust="spacingAndGlyphs">0.6</text>
<text x="427.00" y="623.60" font-size="8.2" fill="#555" text-anchor="middle" textLength="10.26" lengthAdjust="spacingAndGlyphs">0.7</text>
<text x="442.90" y="623.60" font-size="8.2" fill="#555" text-anchor="middle" textLength="10.26" lengthAdjust="spacingAndGlyphs">0.8</text>
<text x="459.40" y="623.60" font-size="8.2" fill="#555" text-anchor="middle" textLength="10.26" lengthAdjust="spacingAndGlyphs">0.9</text>
<text x="472.00" y="623.60" font-size="8.2" fill="#555" text-anchor="middle" textLength="4.10" lengthAdjust="spacingAndGlyphs">1</text>
<text x="341.25" y="638.00" font-size="8.0" fill="#222" font-weight="bold" textLength="109.50" lengthAdjust="spacingAndGlyphs" >False Positive Rate (1-Specificity)</text>
<text x="0" y="0" transform="translate(292.00 584.80) rotate(-90)" font-size="8.0" fill="#222" font-weight="bold" textLength="100.81" lengthAdjust="spacingAndGlyphs">True Positive Rate (Sensitivity)</text>
<polyline points="317.40,611.00 317.40,580.80 323.70,580.80 323.70,563.30 326.60,563.30 326.60,549.40 336.50,549.40 336.50,545.50 343.30,545.50 343.30,532.30 349.40,532.30 349.40,527.40 352.60,527.40 352.60,519.00 356.40,519.00 356.40,500.00 359.60,500.00 359.60,488.30 385.10,488.30 385.10,483.60 391.50,483.60 391.50,479.20 405.00,479.20 405.00,475.00 410.80,475.00 410.80,469.90 420.40,469.90 420.40,466.00 443.30,466.00 443.30,461.30 457.00,461.30 457.00,457.60 471.50,457.60" fill="none" stroke="#dd4a4a" stroke-width="1.5" />
<polyline points="317.40,611.00 317.40,571.50 320.40,571.50 320.40,567.60 326.60,567.60 326.60,554.00 330.10,554.00 330.10,536.40 333.30,536.40 333.30,531.90 336.50,531.90 336.50,527.40 343.60,527.40 343.60,522.30 346.20,522.30 346.20,519.10 349.40,519.10 349.40,505.60 352.60,505.60 352.60,501.20 355.80,501.20 355.80,492.20 359.60,492.20 359.60,479.40 362.80,479.40 362.80,474.90 385.10,474.90 385.10,470.30 408.20,470.30 408.20,466.00 443.30,466.00 443.30,461.30 464.80,461.30 464.80,457.60 471.50,457.60" fill="none" stroke="#4e9a48" stroke-width="1.5" />
<polyline points="317.40,611.00 317.80,603.40 320.80,603.40 320.80,598.90 323.70,598.90 323.70,580.50 327.00,580.50 327.00,527.60 343.60,527.60 343.60,523.00 356.40,523.00 356.40,518.50 359.60,518.50 359.60,514.20 369.20,514.20 369.20,496.80 398.00,496.80 398.00,487.80 404.40,487.80 404.40,483.60 407.60,483.60 407.60,475.00 420.40,475.00 420.40,470.30 440.20,470.30 440.20,466.00 453.00,466.00 453.00,461.30 457.20,461.30 457.20,457.60 471.50,457.60" fill="none" stroke="#3a4ee0" stroke-width="1.5" />
<line x1="317.90" y1="611.40" x2="471.50" y2="457.40" stroke="#000" stroke-width="1.9" />
<rect x="291.7" y="646.3" width="193.60" height="52.70" fill="none" stroke="#333" stroke-width="1.3"/>
<line x1="291.70" y1="657.50" x2="485.30" y2="657.50" stroke="#333" stroke-width="1.8" />
<line x1="291.70" y1="668.40" x2="485.30" y2="668.40" stroke="#444" stroke-width="1.1" />
<line x1="291.70" y1="678.50" x2="485.30" y2="678.50" stroke="#444" stroke-width="1.1" />
<line x1="291.70" y1="688.80" x2="485.30" y2="688.80" stroke="#444" stroke-width="1.1" />
<line x1="325.20" y1="646.30" x2="325.20" y2="699.00" stroke="#444" stroke-width="1.1" />
<line x1="395.70" y1="646.30" x2="395.70" y2="699.00" stroke="#444" stroke-width="1.1" />
<line x1="434.60" y1="646.30" x2="434.60" y2="699.00" stroke="#444" stroke-width="1.1" />
<text x="301.60" y="654.10" font-size="7.4" fill="#222" font-weight="bold" textLength="13.00" lengthAdjust="spacingAndGlyphs" >Line</text>
<text x="326.90" y="654.50" font-size="7.4" fill="#222" font-weight="bold" textLength="64.61" lengthAdjust="spacingAndGlyphs" >Variables in model</text>
<text x="406.00" y="654.00" font-size="7.4" fill="#222" font-weight="bold" textLength="14.61" lengthAdjust="spacingAndGlyphs" >AUC</text>
<text x="439.80" y="654.30" font-size="7.4" fill="#222" font-weight="bold" textLength="40.20" lengthAdjust="spacingAndGlyphs" >p vs chance</text>
<line x1="296.80" y1="663.20" x2="317.60" y2="663.20" stroke="#000" stroke-width="2.4" stroke-linecap="round"/>
<line x1="296.80" y1="673.80" x2="317.60" y2="673.80" stroke="#c84040" stroke-width="2.1" stroke-linecap="round"/>
<line x1="296.80" y1="683.80" x2="317.60" y2="683.80" stroke="#4a9a4a" stroke-width="2.1" stroke-linecap="round"/>
<line x1="296.80" y1="694.20" x2="317.60" y2="694.20" stroke="#4a5ed8" stroke-width="2.1" stroke-linecap="round"/>
<text x="336.20" y="665.30" font-size="7.6" fill="#333" textLength="47.59" lengthAdjust="spacingAndGlyphs" >None (chance)</text>
<text x="356.20" y="675.80" font-size="7.6" fill="#333" textLength="7.61" lengthAdjust="spacingAndGlyphs" >All</text>
<text x="340.80" y="686.10" font-size="7.6" fill="#333" textLength="37.71" lengthAdjust="spacingAndGlyphs" >CFSE alone</text>
<text x="334.60" y="696.50" font-size="7.6" fill="#333" textLength="50.80" lengthAdjust="spacingAndGlyphs" >All except CFSE</text>
<text x="409.20" y="665.80" font-size="7.6" fill="#333" textLength="10.80" lengthAdjust="spacingAndGlyphs" >0.5</text>
<text x="407.40" y="676.00" font-size="7.6" fill="#333" textLength="16.51" lengthAdjust="spacingAndGlyphs" >0.75</text>
<text x="407.40" y="686.20" font-size="7.6" fill="#333" textLength="16.51" lengthAdjust="spacingAndGlyphs" >0.79</text>
<text x="407.40" y="696.50" font-size="7.6" fill="#333" textLength="16.51" lengthAdjust="spacingAndGlyphs" >0.72</text>
<text x="445.80" y="676.00" font-size="7.6" fill="#333" textLength="27.40" lengthAdjust="spacingAndGlyphs" >0.00003</text>
<text x="445.80" y="686.20" font-size="7.6" fill="#333" textLength="27.40" lengthAdjust="spacingAndGlyphs" >0.00003</text>
<text x="445.80" y="696.50" font-size="7.6" fill="#333" textLength="27.40" lengthAdjust="spacingAndGlyphs" >0.00019</text>
</svg>
</body></html>
